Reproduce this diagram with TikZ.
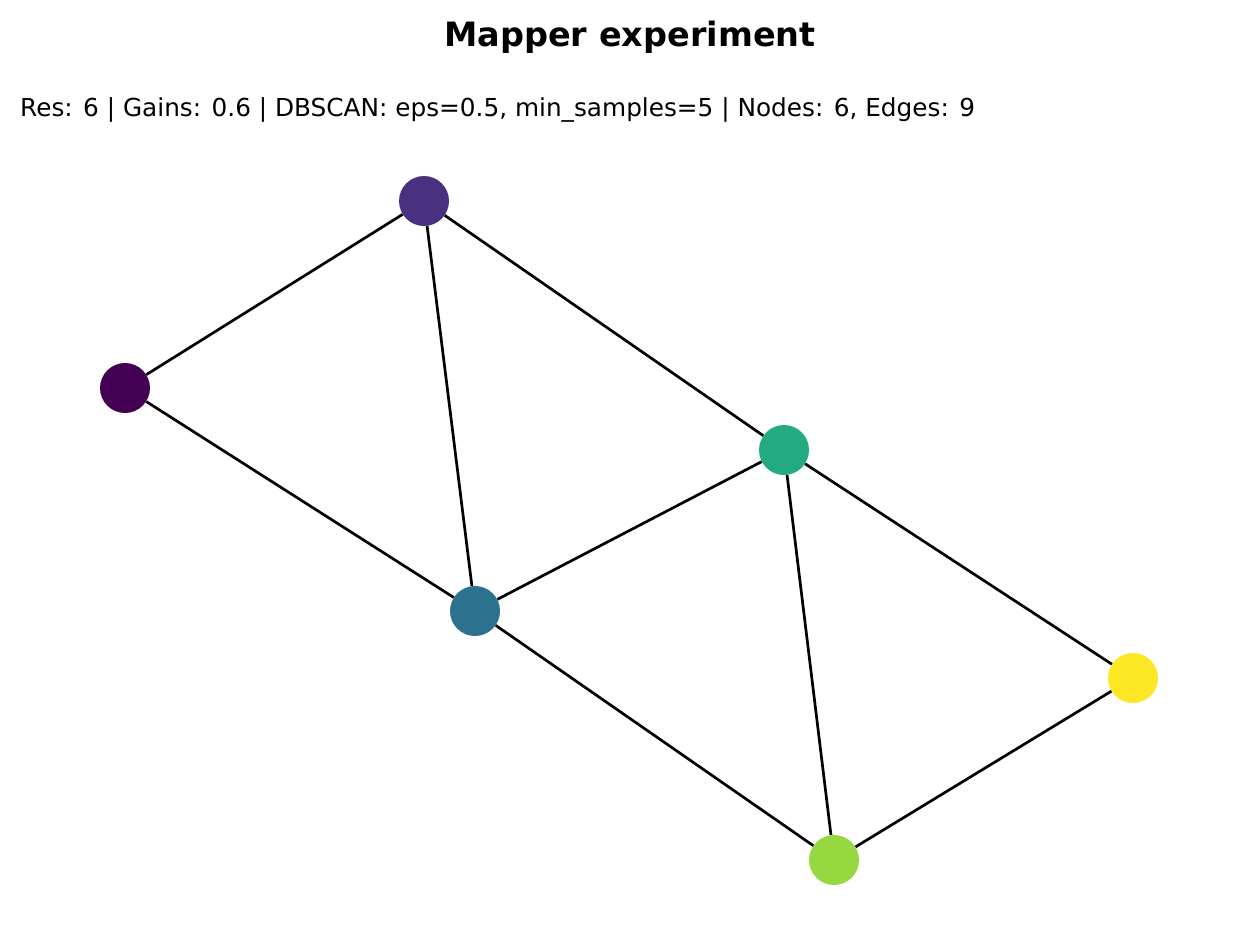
\documentclass[tikz,border=0pt]{standalone}
\usepackage{fontspec}
\setmainfont{DejaVu Sans}
\definecolor{v0}{HTML}{440154}
\definecolor{v1}{HTML}{48317E}
\definecolor{v2}{HTML}{2C728E}
\definecolor{v3}{HTML}{23AA81}
\definecolor{v4}{HTML}{95D840}
\definecolor{v5}{HTML}{FDE725}
\tikzset{
  vert/.style={circle, minimum size=50pt, inner sep=0pt, draw=none},
  edge/.style={line width=2.7pt, black}
}
\begin{document}
\begin{tikzpicture}[x=1pt,y=-1pt]
\useasboundingbox (0,0) rectangle (1260,950);
\node[font=\fontsize{33.5}{40}\selectfont\bfseries] (title) at (630,37) {Mapper experiment};
\node[font=\fontsize{24.75}{30}\selectfont, anchor=west, inner sep=0pt] (sub) at (20,110) {Res: 6 | Gains: 0.6 | DBSCAN: eps=0.5, min\_samples=5 | Nodes: 6, Edges: 9};
\node[vert, fill=v0] (a) at (125,388) {};
\node[vert, fill=v1] (b) at (424,201) {};
\node[vert, fill=v3] (c) at (784,450) {};
\node[vert, fill=v2] (d) at (475,611) {};
\node[vert, fill=v5] (e) at (1133,678) {};
\node[vert, fill=v4] (f) at (834,860) {};
\draw[edge] (a) -- (b);
\draw[edge] (a) -- (d);
\draw[edge] (b) -- (d);
\draw[edge] (b) -- (c);
\draw[edge] (c) -- (d);
\draw[edge] (c) -- (f);
\draw[edge] (c) -- (e);
\draw[edge] (d) -- (f);
\draw[edge] (e) -- (f);
\end{tikzpicture}
\end{document}
